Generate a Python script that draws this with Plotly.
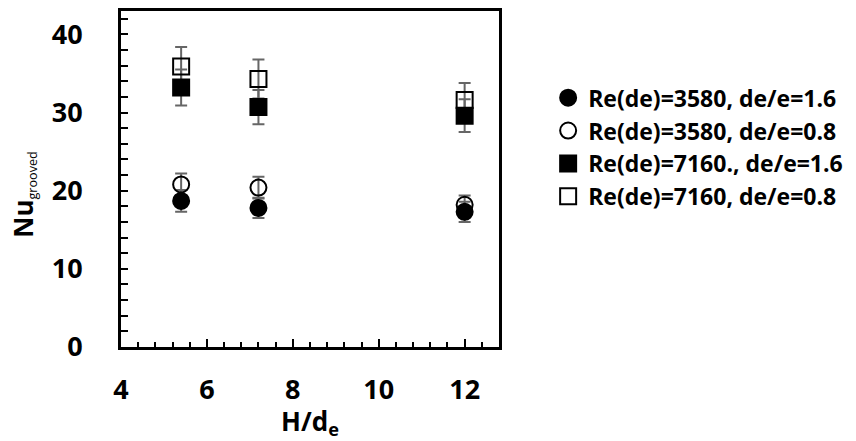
import plotly.graph_objects as go

# H/de positions
x_vals = [5.4, 7.2, 12.0]

# Nu_grooved for each case, with error half-widths
nu_3580_16 = [18.7, 17.8, 17.3]
err_3580_16 = [1.4, 1.3, 1.3]
nu_3580_08 = [20.8, 20.4, 18.2]
err_3580_08 = [1.4, 1.4, 1.2]
nu_7160_16 = [33.2, 30.7, 29.6]
err_7160_16 = [2.3, 2.2, 2.1]
nu_7160_08 = [35.9, 34.3, 31.6]
err_7160_08 = [2.5, 2.5, 2.2]

names = [
    "Re(de)=3580, de/e=1.6",
    "Re(de)=3580, de/e=0.8",
    "Re(de)=7160., de/e=1.6",
    "Re(de)=7160, de/e=0.8",
]

FONT = "Open Sans"
ERR_COLOR = "#666666"

series = [
    (nu_3580_16, err_3580_16, "circle", names[0]),
    (nu_3580_08, err_3580_08, "circle-open", names[1]),
    (nu_7160_16, err_7160_16, "square", names[2]),
    (nu_7160_08, err_7160_08, "square-open", names[3]),
]

fig = go.Figure()

# error bars go underneath every marker
for y, e, sym, name in series:
    fig.add_trace(go.Scatter(
        x=x_vals, y=y, mode="markers", showlegend=False, hoverinfo="skip",
        marker=dict(size=1, color="rgba(0,0,0,0)"),
        error_y=dict(type="data", array=e, visible=True,
                     color=ERR_COLOR, thickness=2, width=6),
    ))

for y, e, sym, name in series:
    fig.add_trace(go.Scatter(
        x=x_vals, y=y, mode="markers", name=name,
        marker=dict(symbol=sym, size=16, color="black",
                    line=dict(color="black", width=2)),
    ))

fig.update_layout(
    width=856, height=441,
    margin=dict(l=121, r=356, t=8, b=94),
    paper_bgcolor="white", plot_bgcolor="white",
    font=dict(family=FONT, color="black"),
    showlegend=True,
    legend=dict(x=1.13, y=0.806, xanchor="left", yanchor="top",
                font=dict(family=FONT, size=23, color="black", weight="bold"),
                itemwidth=30, bgcolor="rgba(0,0,0,0)"),
    annotations=[dict(
        text="<b>Nu</b><span style='font-size:18px;font-weight:normal'><sub>grooved</sub></span>",
        xref="paper", yref="paper", x=-0.2586, y=0.454,
        xanchor="center", yanchor="middle", textangle=-90, showarrow=False,
        font=dict(family=FONT, size=26, color="black"),
    )],
)

fig.update_xaxes(
    range=[4, 12.8], tick0=4, dtick=2,
    showgrid=False, zeroline=False,
    showline=True, linecolor="black", linewidth=3, mirror=True,
    ticks="inside", ticklen=8, tickwidth=2, tickcolor="black",
    ticklabelstandoff=17,
    tickfont=dict(family=FONT, size=27, color="black", weight="bold"),
    minor=dict(dtick=0.4, ticks="inside", ticklen=5, tickwidth=2,
               tickcolor="black", showgrid=False),
    title=dict(text="H/d<sub>e</sub>", standoff=2,
               font=dict(family=FONT, size=26, color="black", weight="bold")),
)

fig.update_yaxes(
    range=[0, 43], tick0=0, dtick=10,
    showgrid=False, zeroline=False,
    showline=True, linecolor="black", linewidth=3, mirror=True,
    ticks="inside", ticklen=7, tickwidth=2, tickcolor="black",
    ticklabelstandoff=30,
    tickfont=dict(family=FONT, size=27, color="black", weight="bold"),
    minor=dict(dtick=2, ticks="inside", ticklen=7, tickwidth=2,
               tickcolor="black", showgrid=False),
)

fig.write_html("out.html")
